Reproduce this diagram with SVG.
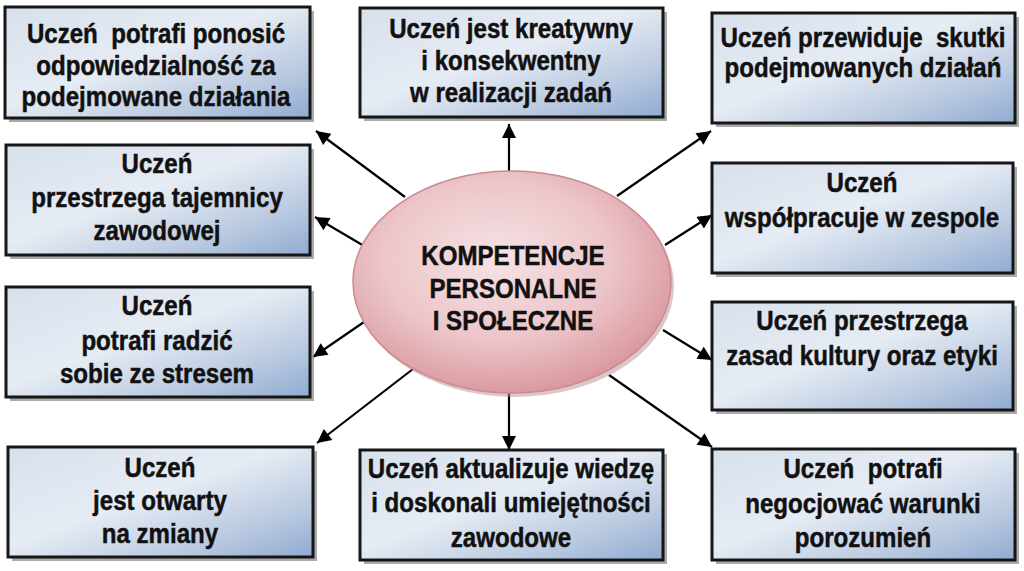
<svg xmlns="http://www.w3.org/2000/svg" width="1024" height="571" viewBox="0 0 1024 571">
<defs>
<linearGradient id="boxg" x1="0" y1="0" x2="1" y2="1">
<stop offset="0" stop-color="#d7e0ec"/>
<stop offset="0.45" stop-color="#e6ecf4"/>
<stop offset="0.75" stop-color="#bccbe1"/>
<stop offset="1" stop-color="#90abd2"/>
</linearGradient>
<radialGradient id="ellg" cx="0.45" cy="0.4" r="0.6">
<stop offset="0" stop-color="#f6e3e5"/>
<stop offset="0.6" stop-color="#ecc5c9"/>
<stop offset="1" stop-color="#da9aa0"/>
</radialGradient>
<marker id="ah" viewBox="0 0 10 10" refX="10" refY="5" markerWidth="18" markerHeight="14" markerUnits="userSpaceOnUse" orient="auto">
<path d="M0,0 L10,5 L0,10 z" fill="#000"/>
</marker>
</defs>
<style>
.shadow{fill:#8e8e8e;opacity:0.75}
.box{fill:url(#boxg);stroke:#161616;stroke-width:3}
.t{font-family:"Liberation Sans","Arial",sans-serif;font-weight:bold;font-size:28px;fill:#111;stroke:#111;stroke-width:0.5;text-anchor:middle}
.conn{stroke:#000;stroke-width:2.2;fill:none;marker-end:url(#ah)}
</style>
<rect width="1024" height="571" fill="#fff"/>
<g id="connectors">
<line class="conn" x1="405" y1="197" x2="316" y2="131"/>
<line class="conn" x1="364" y1="246" x2="315" y2="217"/>
<line class="conn" x1="364" y1="322" x2="313" y2="357"/>
<line class="conn" x1="413" y1="369" x2="317" y2="443"/>
<line class="conn" x1="509" y1="174" x2="509" y2="124"/>
<line class="conn" x1="617" y1="196" x2="711" y2="131"/>
<line class="conn" x1="665" y1="245" x2="712" y2="215"/>
<line class="conn" x1="663" y1="330" x2="712" y2="360"/>
<line class="conn" x1="609" y1="375" x2="712" y2="447"/>
<line class="conn" x1="509" y1="392" x2="509" y2="450"/>
</g>
<g id="center">
<ellipse cx="515" cy="286" rx="159" ry="111" fill="#b89094" opacity="0.5"/>
<ellipse cx="512" cy="282" rx="159" ry="111" fill="url(#ellg)" stroke="#c98a91" stroke-width="1.5"/>
<text class="t" transform="translate(513,0) scale(0.86,1)"><tspan x="0" y="265">KOMPETENCJE</tspan><tspan x="0" y="298">PERSONALNE</tspan><tspan x="0" y="330">I SPOŁECZNE</tspan></text>
</g>
<g id="n1">
<rect class="shadow" x="9" y="11" width="305" height="111"/>
<rect class="box" x="5" y="7" width="305" height="111"/>
<text class="t" transform="translate(156,0) scale(0.86,1)"><tspan x="0" y="43">Uczeń&#160; potrafi ponosić</tspan><tspan x="0" y="75">odpowiedzialność za</tspan><tspan x="0" y="106">podejmowane działania</tspan></text>
</g>
<g id="n2">
<rect class="shadow" x="10" y="149" width="304" height="110"/>
<rect class="box" x="6" y="145" width="304" height="110"/>
<text class="t" transform="translate(157,0) scale(0.86,1)"><tspan x="0" y="173">Uczeń</tspan><tspan x="0" y="207">przestrzega tajemnicy</tspan><tspan x="0" y="240">zawodowej</tspan></text>
</g>
<g id="n3">
<rect class="shadow" x="10" y="291" width="304" height="110"/>
<rect class="box" x="6" y="287" width="304" height="110"/>
<text class="t" transform="translate(157,0) scale(0.86,1)"><tspan x="0" y="315">Uczeń</tspan><tspan x="0" y="350">potrafi radzić</tspan><tspan x="0" y="383">sobie ze stresem</tspan></text>
</g>
<g id="n4">
<rect class="shadow" x="12" y="451" width="305" height="110"/>
<rect class="box" x="8" y="447" width="305" height="110"/>
<text class="t" transform="translate(160,0) scale(0.86,1)"><tspan x="0" y="477">Uczeń</tspan><tspan x="0" y="510">jest otwarty</tspan><tspan x="0" y="543">na zmiany</tspan></text>
</g>
<g id="n5">
<rect class="shadow" x="364" y="12" width="303" height="109"/>
<rect class="box" x="360" y="8" width="303" height="109"/>
<text class="t" transform="translate(511,0) scale(0.86,1)"><tspan x="0" y="38">Uczeń jest kreatywny</tspan><tspan x="0" y="70">i konsekwentny</tspan><tspan x="0" y="102">w realizacji zadań</tspan></text>
</g>
<g id="n6">
<rect class="shadow" x="716" y="17" width="303" height="110"/>
<rect class="box" x="712" y="13" width="303" height="110"/>
<text class="t" transform="translate(863,0) scale(0.86,1)"><tspan x="0" y="47">Uczeń przewiduje&#160; skutki</tspan><tspan x="0" y="77">podejmowanych działań</tspan></text>
</g>
<g id="n7">
<rect class="shadow" x="716" y="167" width="301" height="110"/>
<rect class="box" x="712" y="163" width="301" height="110"/>
<text class="t" transform="translate(862,0) scale(0.86,1)"><tspan x="0" y="192">Uczeń</tspan><tspan x="0" y="227">współpracuje w zespole</tspan></text>
</g>
<g id="n8">
<rect class="shadow" x="716" y="306" width="301" height="108"/>
<rect class="box" x="712" y="302" width="301" height="108"/>
<text class="t" transform="translate(862,0) scale(0.86,1)"><tspan x="0" y="330">Uczeń przestrzega</tspan><tspan x="0" y="365">zasad kultury oraz etyki</tspan></text>
</g>
<g id="n9">
<rect class="shadow" x="716" y="453" width="303" height="111"/>
<rect class="box" x="712" y="449" width="303" height="111"/>
<text class="t" transform="translate(863,0) scale(0.86,1)"><tspan x="0" y="478">Uczeń&#160; potrafi</tspan><tspan x="0" y="513">negocjować warunki</tspan><tspan x="0" y="547">porozumień</tspan></text>
</g>
<g id="n10">
<rect class="shadow" x="364" y="454" width="303" height="110"/>
<rect class="box" x="360" y="450" width="303" height="110"/>
<text class="t" transform="translate(511,0) scale(0.86,1)"><tspan x="0" y="478">Uczeń aktualizuje wiedzę</tspan><tspan x="0" y="512">i doskonali umiejętności</tspan><tspan x="0" y="547">zawodowe</tspan></text>
</g>
</svg>
